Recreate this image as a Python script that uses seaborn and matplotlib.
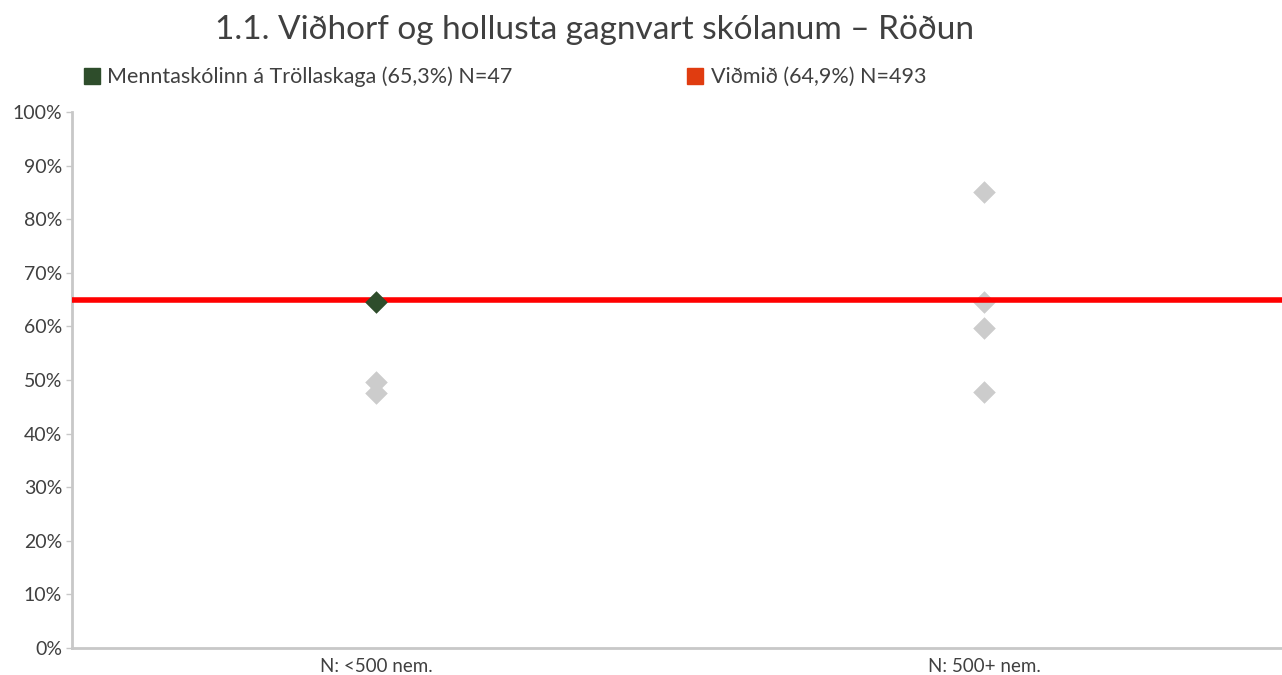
import pandas as pd
import matplotlib.pyplot as plt
import seaborn as sns
from matplotlib.lines import Line2D
from matplotlib.ticker import PercentFormatter

# Gögn
categories = ["N: <500 nem.", "N: 500+ nem."]
school_cat = ["N: <500 nem."]
school_vals = [64.6]
other_cat = ["N: <500 nem.", "N: <500 nem.",
             "N: 500+ nem.", "N: 500+ nem.", "N: 500+ nem.", "N: 500+ nem."]
other_vals = [49.7, 47.6, 85.1, 64.6, 59.7, 47.8]
benchmark = 64.9
legend_labels = ["Menntaskólinn á Tröllaskaga (65,3%) N=47", "Viðmið (64,9%) N=493"]
title = "1.1. Viðhorf og hollusta gagnvart skólanum – Röðun"

df_other = pd.DataFrame({"hopur": other_cat, "gildi": other_vals})
df_school = pd.DataFrame({"hopur": school_cat, "gildi": school_vals})

sns.set_theme(style="white")
plt.rcParams['font.family'] = ['Lato', 'DejaVu Sans']
txt = "#404040"

fig = plt.figure(figsize=(12.82, 6.75), dpi=100)
ax = fig.add_axes([0.056, 0.04, 0.944, 0.794])

sns.stripplot(data=df_other, x="hopur", y="gildi", order=categories, jitter=False,
              marker="D", size=11.5, color="#cccccc", linewidth=0, ax=ax, zorder=3)
ax.axhline(benchmark, color="#ff0000", lw=4, zorder=4)
sns.stripplot(data=df_school, x="hopur", y="gildi", order=categories, jitter=False,
              marker="D", size=11.5, color="#2e4d2b", linewidth=0, ax=ax, zorder=5)

ax.set_xlim(-0.5, 1.49)
ax.set_ylim(0, 100)
ax.set_yticks(range(0, 101, 10))
ax.yaxis.set_major_formatter(PercentFormatter(decimals=0))
ax.set_xlabel("")
ax.set_ylabel("")

sns.despine(ax=ax)
for side in ["left", "bottom"]:
    ax.spines[side].set_color("#c8c8c8")
    ax.spines[side].set_linewidth(2)
ax.tick_params(axis="y", left=True, length=4, width=1, color="#c8c8c8",
               labelsize=14, labelcolor=txt, pad=3)
ax.tick_params(axis="x", bottom=False, labelsize=13.5, labelcolor=txt, pad=1)

fig.text(0.464, 0.955, title, ha="center", va="center", fontsize=24, color=txt)

handles = [Line2D([], [], marker="s", ls="", color="#2e4d2b", markersize=11),
           Line2D([], [], marker="s", ls="", color="#e03c10", markersize=11)]
fig.legend(handles, legend_labels, loc="center left", bbox_to_anchor=(0.055, 0.886),
           ncol=2, frameon=False, fontsize=15.5, labelcolor=txt, handletextpad=0.2,
           columnspacing=8.0, handlelength=1.0, borderpad=0)

fig.savefig("out.png", dpi=100)
plt.close(fig)
